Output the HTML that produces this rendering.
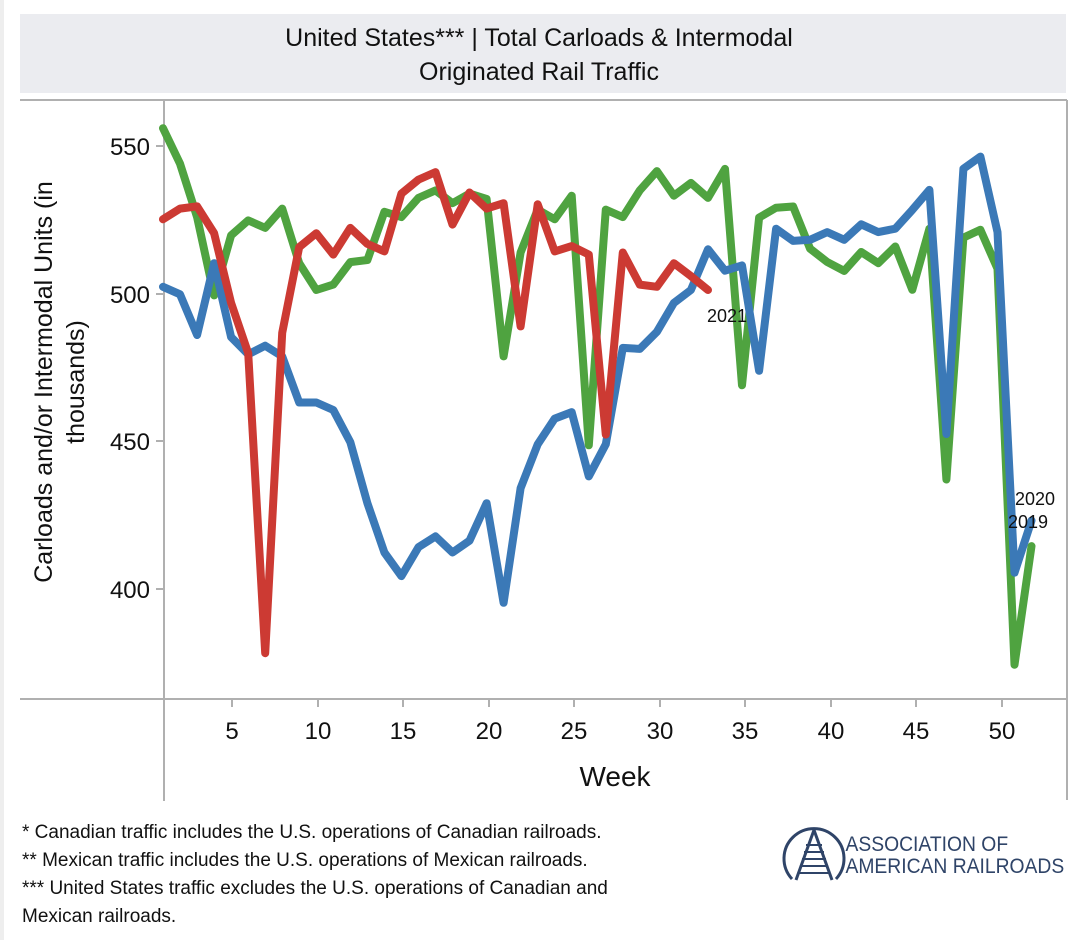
<!DOCTYPE html>
<html><head><meta charset="utf-8"><style>
body{margin:0;background:#fff;width:1086px;height:940px;overflow:hidden;font-family:"Liberation Sans",Arial,sans-serif;}
</style></head><body>
<svg width="1086" height="940" viewBox="0 0 1086 940" xmlns="http://www.w3.org/2000/svg" font-family="Liberation Sans, Arial, sans-serif">
<rect x="0" y="0" width="4" height="940" fill="#eeeeee"/>
<rect x="20" y="14" width="1046" height="79" fill="#ebecf0"/>
<text x="539" y="46" font-size="25" text-anchor="middle" fill="#111">United States*** | Total Carloads &amp; Intermodal</text>
<text x="539" y="80" font-size="25" text-anchor="middle" fill="#111">Originated Rail Traffic</text>
<g stroke="#b0b0b0" stroke-width="2" fill="none">
<line x1="20" y1="100" x2="1067" y2="100"/>
<line x1="1067" y1="100" x2="1067" y2="800"/>
<line x1="20" y1="699" x2="1067" y2="699"/>
<line x1="164" y1="100" x2="164" y2="801"/>
<line x1="156" y1="146" x2="164" y2="146"/>
<line x1="156" y1="294" x2="164" y2="294"/>
<line x1="156" y1="441" x2="164" y2="441"/>
<line x1="156" y1="589" x2="164" y2="589"/>
<line x1="232" y1="699" x2="232" y2="707"/>
<line x1="318" y1="699" x2="318" y2="707"/>
<line x1="403" y1="699" x2="403" y2="707"/>
<line x1="489" y1="699" x2="489" y2="707"/>
<line x1="574" y1="699" x2="574" y2="707"/>
<line x1="660" y1="699" x2="660" y2="707"/>
<line x1="745" y1="699" x2="745" y2="707"/>
<line x1="831" y1="699" x2="831" y2="707"/>
<line x1="916" y1="699" x2="916" y2="707"/>
<line x1="1002" y1="699" x2="1002" y2="707"/>
</g>
<g font-size="24" fill="#111" text-anchor="end">
<text x="150" y="155">550</text><text x="150" y="303">500</text><text x="150" y="450">450</text><text x="150" y="598">400</text>
</g>
<g font-size="24" fill="#111" text-anchor="middle">
<text x="232" y="739">5</text><text x="318" y="739">10</text><text x="403" y="739">15</text><text x="489" y="739">20</text><text x="574" y="739">25</text><text x="660" y="739">30</text><text x="745" y="739">35</text><text x="831" y="739">40</text><text x="916" y="739">45</text><text x="1002" y="739">50</text>
</g>
<text x="615" y="786" font-size="28" text-anchor="middle" fill="#111">Week</text>
<g transform="translate(52,382) rotate(-90)" font-size="25" fill="#111" text-anchor="middle">
<text x="0" y="0">Carloads and/or Intermodal Units (in</text>
<text x="0" y="32">thousands)</text>
</g>
<g fill="none" stroke-width="8" stroke-linejoin="round" stroke-linecap="round">
<polyline id="g" stroke="#4fa340" points=""/>
<polyline id="b" stroke="#3b79b7" points=""/>
<polyline id="r" stroke="#cc3a33" points=""/>
</g>
<g font-size="18" fill="#111">
<text x="707" y="322">2021</text>
<text x="1015" y="505">2020</text>
<text x="1008" y="528">2019</text>
</g>
<g font-size="19" fill="#111">
<text x="22" y="838">* Canadian traffic includes the U.S. operations of Canadian railroads.</text>
<text x="22" y="866">** Mexican traffic includes the U.S. operations of Mexican railroads.</text>
<text x="22" y="894">*** United States traffic excludes the U.S. operations of Canadian and</text>
<text x="22" y="922">Mexican railroads.</text>
</g>
<g stroke="#2f4468" fill="none" stroke-width="3">
<path d="M792 879 A30 30 0 1 1 836 879"/>
<line x1="814" y1="830" x2="796" y2="880"/><line x1="814" y1="830" x2="832" y2="880"/>
</g>
<g stroke="#2f4468" stroke-width="2">
<line x1="806" y1="845" x2="822" y2="845"/><line x1="804" y1="852" x2="824" y2="852"/><line x1="802" y1="859" x2="826" y2="859"/><line x1="800" y1="866" x2="828" y2="866"/><line x1="798" y1="873" x2="830" y2="873"/>
</g>
<g font-size="21" fill="#2f4468" transform="scale(0.92,1)">
<text x="919" y="851">ASSOCIATION OF</text>
<text x="919" y="873">AMERICAN RAILROADS</text>
</g>
</svg>
<script>
function fix(a){return a.map(function(y,i){var f=(i<35)?1.0714:1.1097;return 110+(y-110)*f;});}
function pts(a){a=fix(a);return a.map(function(y,i){return (163+i*17.03).toFixed(1)+","+y.toFixed(1)}).join(" ");}
var G=[127,160,210,283,227,213,220,202,253,278,273,252,250,205,210,192,185,197,188,193,340,243,203,212,190,423,203,210,185,167,190,178,192,165,367,207,198,197,235,247,255,238,248,233,272,217,443,225,218,253,610,503];
var B=[275,282,320,253,322,338,330,340,383,383,390,420,477,523,545,518,508,523,512,477,570,463,422,398,392,452,422,332,333,317,290,278,240,260,255,345,217,228,227,220,227,213,220,217,200,182,402,163,152,220,527,480];
var R=[212,202,200,225,290,337,617,318,238,225,245,220,235,242,188,175,168,217,187,202,197,312,198,242,237,245,413,243,273,275,253,265,278];
document.getElementById("g").setAttribute("points",pts(G));
document.getElementById("b").setAttribute("points",pts(B));
document.getElementById("r").setAttribute("points",pts(R));
</script>
</body></html>
